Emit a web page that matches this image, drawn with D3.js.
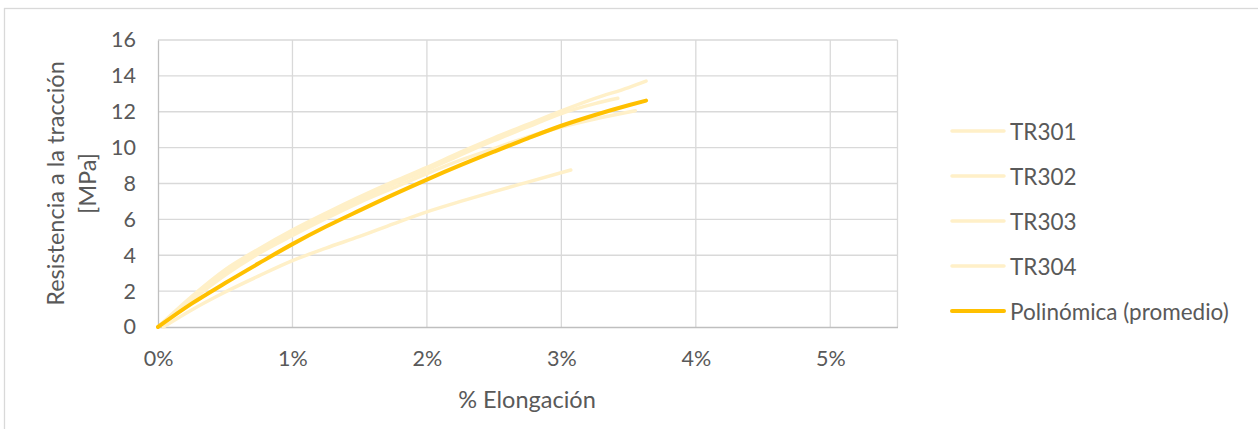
<!DOCTYPE html>
<html>
<head>
<meta charset="utf-8">
<script src="https://cdn.jsdelivr.net/npm/d3@7/dist/d3.min.js"></script>
<style>
  html, body { margin: 0; padding: 0; background: #fff; }
  svg { display: block; }
  text { font-family: Lato, "Open Sans", sans-serif; fill: #595959; }
</style>
</head>
<body>
<svg id="chart" width="1258" height="429"></svg>
<script>
// Elongation (fraction) and tensile strength (MPa)
const tr301X = [0, 0.0025, 0.005, 0.0075, 0.01, 0.0125, 0.015, 0.0175, 0.02, 0.0225, 0.025, 0.0275, 0.03, 0.0325, 0.035, 0.0363];
const tr301Y = [0, 1.7, 3.2, 4.35, 5.4, 6.35, 7.25, 8.1, 8.9, 9.75, 10.55, 11.3, 12.05, 12.75, 13.35, 13.71];
const tr302X = [0, 0.0025, 0.005, 0.0075, 0.01, 0.0125, 0.015, 0.0175, 0.02, 0.0225, 0.025, 0.0275, 0.03, 0.0325, 0.0342];
const tr302Y = [0, 1.6, 3.05, 4.25, 5.25, 6.2, 7.1, 7.95, 8.75, 9.6, 10.4, 11.15, 11.9, 12.45, 12.75];
const tr303X = [0, 0.0025, 0.005, 0.0075, 0.01, 0.0125, 0.015, 0.0175, 0.02, 0.0225, 0.025, 0.0275, 0.03, 0.0325, 0.0355];
const tr303Y = [0, 1.5, 2.9, 4.1, 5.1, 6.05, 6.95, 7.75, 8.55, 9.3, 9.95, 10.6, 11.15, 11.6, 12.06];
const tr304X = [0.0004, 0.0025, 0.005, 0.0075, 0.01, 0.0125, 0.015, 0.0175, 0.02, 0.0225, 0.025, 0.0275, 0.0307];
const tr304Y = [0, 0.95, 1.95, 2.85, 3.7, 4.4, 5.05, 5.75, 6.42, 7.0, 7.55, 8.08, 8.75];
const polyX = [0, 0.0025, 0.005, 0.0075, 0.01, 0.0125, 0.015, 0.0175, 0.02, 0.0225, 0.025, 0.0275, 0.03, 0.0325, 0.035, 0.0363];
const polyY = [0, 1.3, 2.45, 3.55, 4.62, 5.6, 6.5, 7.38, 8.22, 9.02, 9.78, 10.52, 11.22, 11.82, 12.36, 12.62];

const seriesNames = ["TR301", "TR302", "TR303", "TR304", "Polinómica (promedio)"];
const xTicks = [0, 0.01, 0.02, 0.03, 0.04, 0.05];
const yTicks = [0, 2, 4, 6, 8, 10, 12, 14, 16];
const xTitle = "% Elongación";
const yTitle = ["Resistencia a la tracción", "[MPa]"];

const lightColor = "#FFF0C8";
const polyColor = "#FFC000";

const svg = d3.select("#chart");
const m = { left: 158, right: 897.5, top: 40, bottom: 327 };

const x = d3.scaleLinear().domain([0, 0.055]).range([m.left, m.right]);
const y = d3.scaleLinear().domain([0, 16]).range([m.bottom, m.top]);

// outer frame (partially cropped)
svg.append("rect").attr("x", 4.5).attr("y", 8.5).attr("width", 1300).attr("height", 500)
  .attr("fill", "#fff").attr("stroke", "#d9d9d9").attr("stroke-width", 1.3);

// gridlines
svg.append("g").selectAll("line.h").data(yTicks.slice(1)).join("line")
  .attr("x1", m.left).attr("x2", m.right)
  .attr("y1", d => y(d)).attr("y2", d => y(d))
  .attr("stroke", "#d9d9d9").attr("stroke-width", 1.3);
svg.append("g").selectAll("line.v").data(xTicks.slice(1).concat([0.055])).join("line")
  .attr("x1", d => x(d)).attr("x2", d => x(d))
  .attr("y1", m.top).attr("y2", m.bottom)
  .attr("stroke", "#d9d9d9").attr("stroke-width", 1.3);

// axes
const xAxis = d3.axisBottom(x).tickValues(xTicks).tickFormat(d3.format(".0%")).tickSize(0).tickPadding(24);
const gx = svg.append("g").attr("transform", `translate(0,${m.bottom})`).call(xAxis);
gx.select(".domain").attr("stroke", "#bfbfbf").attr("stroke-width", 1.3);
gx.selectAll("text").attr("font-size", 21.5).attr("font-family", "Lato").attr("fill", "#595959");

const yAxis = d3.axisLeft(y).tickValues(yTicks).tickSize(0).tickPadding(22);
const gy = svg.append("g").attr("transform", `translate(${m.left},0)`).call(yAxis);
gy.select(".domain").attr("stroke", "#bfbfbf").attr("stroke-width", 1.3);
gy.selectAll("text").attr("font-size", 21.5).attr("font-family", "Lato").attr("fill", "#595959");

// titles
svg.append("text").attr("x", 527).attr("y", 399).attr("text-anchor", "middle")
  .attr("dominant-baseline", "central").attr("font-size", 23.5).text(xTitle);
const yt = svg.append("text").attr("transform", "translate(56,183.5) rotate(-90)")
  .attr("text-anchor", "middle").attr("font-size", 23.5);
yt.append("tspan").attr("x", 0).attr("dy", "0.35em").text(yTitle[0]);
yt.append("tspan").attr("x", 0).attr("dy", 32).text(yTitle[1]);

// lines
const line = d3.line().x(d => x(d[0])).y(d => y(d[1])).curve(d3.curveMonotoneX);
const trSeries = [[tr301X, tr301Y], [tr302X, tr302Y], [tr303X, tr303Y], [tr304X, tr304Y]];
const gLines = svg.append("g");
trSeries.forEach(([xs, ys]) => {
  gLines.append("path").datum(d3.zip(xs, ys)).attr("d", line)
    .attr("fill", "none").attr("stroke", lightColor).attr("stroke-width", 3.5)
    .attr("stroke-linecap", "round").attr("stroke-linejoin", "round");
});
gLines.append("path").datum(d3.zip(polyX, polyY)).attr("d", line)
  .attr("fill", "none").attr("stroke", polyColor).attr("stroke-width", 4)
  .attr("stroke-linecap", "round").attr("stroke-linejoin", "round");

// legend
const legendY = [131, 176, 221, 266, 311];
const lg = svg.append("g");
seriesNames.forEach((name, i) => {
  const isPoly = i === 4;
  lg.append("line").attr("x1", 952).attr("x2", 1004)
    .attr("y1", legendY[i]).attr("y2", legendY[i])
    .attr("stroke", isPoly ? polyColor : lightColor).attr("stroke-width", isPoly ? 4 : 3.5)
    .attr("stroke-linecap", "round");
  lg.append("text").attr("x", 1010).attr("y", legendY[i]).attr("dominant-baseline", "central")
    .attr("font-size", 22.5).text(name);
});
</script>
</body>
</html>
